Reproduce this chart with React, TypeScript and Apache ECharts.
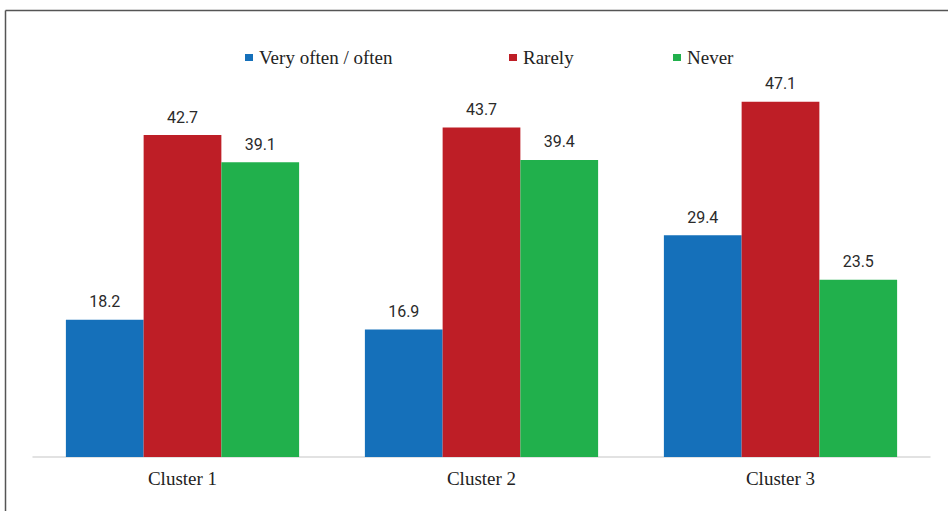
import React, { useEffect, useRef } from "react";
import * as echarts from "echarts";

const categories = ["Cluster 1", "Cluster 2", "Cluster 3"];
const seriesNames = ["Very often / often", "Rarely", "Never"];
const veryOften = [18.2, 16.9, 29.4];
const rarely = [42.7, 43.7, 47.1];
const never = [39.1, 39.4, 23.5];
const colors = ["#1570ba", "#be1e26", "#21b04c"];

const serif = "'Liberation Serif', 'Times New Roman', serif";

export default function App() {
  const ref = useRef<HTMLDivElement>(null);

  useEffect(() => {
    if (!ref.current) return;
    const chart = echarts.init(ref.current, null, { renderer: "svg" });

    const values = [veryOften, rarely, never];
    const legendLefts = [240, 504, 668];

    const legend = seriesNames.map((name, i) => ({
      show: true,
      data: [name],
      left: legendLefts[i],
      top: 43,
      icon: "rect",
      itemWidth: 8,
      itemHeight: 7,
      itemGap: 0,
      textStyle: { fontFamily: serif, fontSize: 19, color: "#222", padding: [0, 0, 0, 1] },
    }));

    chart.setOption({
      animation: false,
      backgroundColor: "#ffffff",
      legend,
      grid: { left: 33, right: 18, top: 80, bottom: 54, containLabel: false },
      xAxis: {
        type: "category",
        data: categories,
        axisLine: { show: true, lineStyle: { color: "#d9d9d9", width: 1.5 } },
        axisTick: { show: false },
        axisLabel: { fontFamily: serif, fontSize: 19, color: "#222", margin: 12 },
      },
      yAxis: {
        type: "value",
        min: 0,
        max: 50,
        show: false,
        splitLine: { show: false },
      },
      series: seriesNames.map((name, i) => ({
        name,
        type: "bar",
        data: values[i],
        barGap: "0%",
        barCategoryGap: "22%",
        itemStyle: { color: colors[i] },
        label: {
          show: true,
          position: "top",
          distance: 10,
          fontFamily: "Roboto, 'Liberation Sans', sans-serif",
          fontSize: 16,
          color: "#2a2a2a",
          formatter: (p: any) => Number(p.value).toFixed(1),
        },
      })),
      graphic: [
        {
          type: "line",
          shape: { x1: 5.5, y1: 10.5, x2: 948, y2: 10.5 },
          style: { stroke: "#555", lineWidth: 1.5 },
        },
        {
          type: "line",
          shape: { x1: 5.5, y1: 10.5, x2: 5.5, y2: 511 },
          style: { stroke: "#555", lineWidth: 1.5 },
        },
      ],
    });

    return () => chart.dispose();
  }, []);

  return (
    <div
      ref={ref}
      style={{ position: "absolute", left: 0, top: 0, width: 948, height: 511, background: "#fff" }}
    />
  );
}
